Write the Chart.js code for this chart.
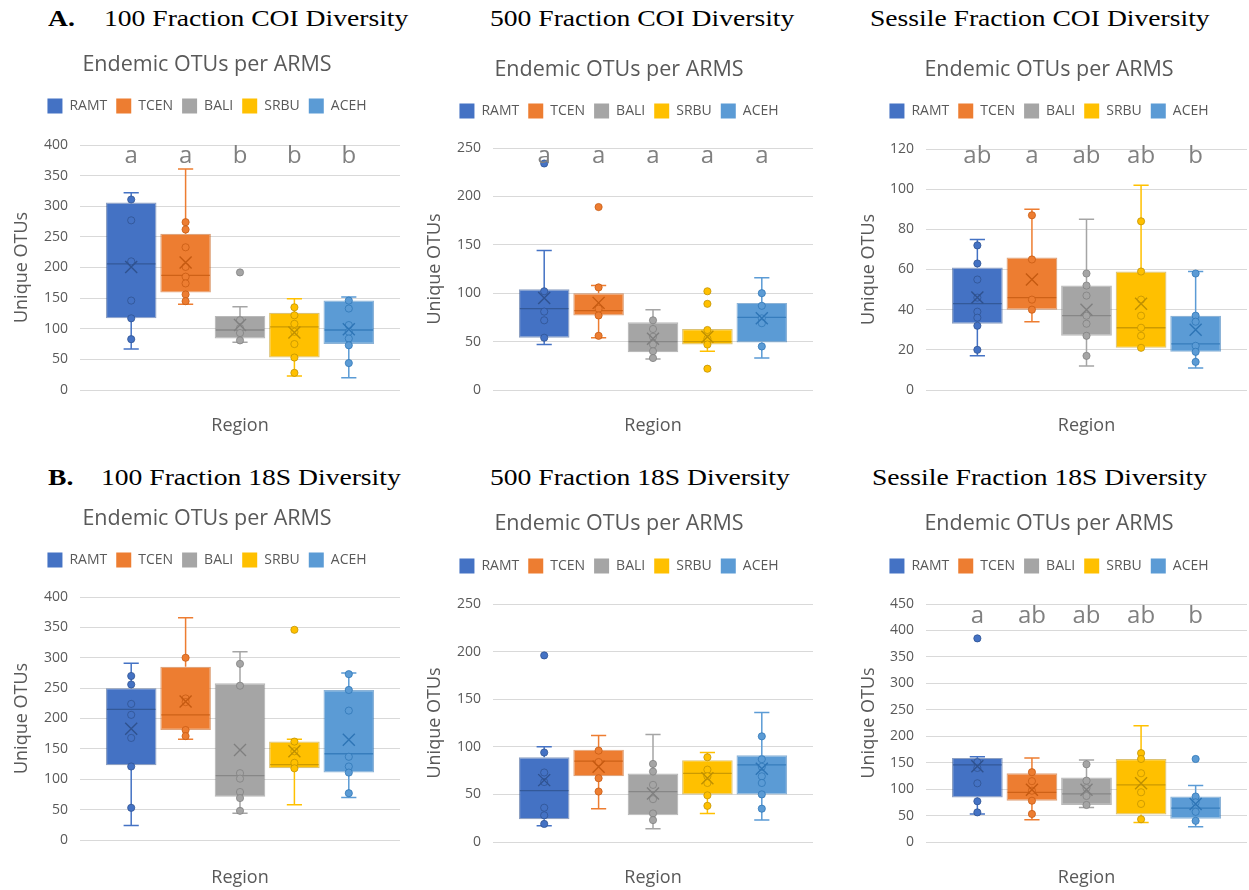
<!DOCTYPE html>
<html>
<head>
<meta charset="utf-8">
<script src="https://cdn.jsdelivr.net/npm/chart.js@4.4.1/dist/chart.umd.min.js"></script>
<style>
  html, body { margin: 0; padding: 0; background: #fff; }
  body { position: relative; width: 1249px; height: 890px; overflow: hidden; }
  canvas { position: absolute; }
  .head {
    position: absolute; white-space: nowrap; color: #000;
    font-family: "Liberation Serif", "Times New Roman", serif;
    font-size: 24px; line-height: 24px;
    transform: scaleX(1.15); transform-origin: 0 0;
  }
</style>
</head>
<body>
<div class="head" style="left:48px;top:6px"><b>A.</b></div>
<div class="head" style="left:104px;top:6px">100 Fraction COI Diversity</div>
<div class="head" style="left:490px;top:6px">500 Fraction COI Diversity</div>
<div class="head" style="left:870px;top:6px">Sessile Fraction COI Diversity</div>
<div class="head" style="left:48px;top:465px"><b>B.</b></div>
<div class="head" style="left:101px;top:465px">100 Fraction 18S Diversity</div>
<div class="head" style="left:490px;top:465px">500 Fraction 18S Diversity</div>
<div class="head" style="left:872px;top:465px">Sessile Fraction 18S Diversity</div>

<canvas id="c1"></canvas>
<canvas id="c2"></canvas>
<canvas id="c3"></canvas>
<canvas id="c4"></canvas>
<canvas id="c5"></canvas>
<canvas id="c6"></canvas>

<script>
// Regions (one box per region)
const regions = ['RAMT', 'TCEN', 'BALI', 'SRBU', 'ACEH'];

// Box statistics per region: [whisker low, Q1, median, Q3, whisker high, mean]
const coi100Stats = [
  [67, 117, 206, 306, 322, 201],
  [140, 159, 187, 255, 361, 208],
  [78, 84, 98, 121, 136, 106],
  [23, 53, 103, 126, 149, 94],
  [20, 75, 98, 146, 152, 99]
];
const coi100Points = [
  [311, 277, 210, 146, 117, 83],
  [274, 262, 233, 201, 185, 174, 156, 145],
  [192, 114, 101, 93, 81],
  [135, 122, 108, 95, 75, 53, 28],
  [146, 133, 106, 95, 84, 73, 44]
];
const coi100Letters = ['a', 'a', 'b', 'b', 'b'];

const coi500Stats = [
  [47, 54, 84, 104, 144, 95],
  [54, 77, 82, 100, 108, 90],
  [32, 39, 50, 70, 83, 53],
  [40, 47, 50, 63, 63, 55],
  [33, 49, 75, 90, 116, 74]
];
const coi500Points = [
  [234, 102, 81, 72, 54],
  [189, 106, 84, 77, 56],
  [72, 63, 55, 47, 40, 33],
  [102, 89, 62, 53, 47, 22],
  [100, 87, 74, 69, 45]
];
const coi500Letters = ['a', 'a', 'a', 'a', 'a'];

const coiSessileStats = [
  [17, 33, 43, 61, 75, 46],
  [34, 40, 46, 66, 90, 55],
  [12, 27, 37, 52, 85, 40],
  [21, 21, 31, 59, 102, 43],
  [11, 19, 23, 37, 59, 30]
];
const coiSessilePoints = [
  [72, 63, 55, 46, 39, 36, 32, 20],
  [87, 65, 45, 40],
  [58, 52, 47, 37, 33, 27, 17],
  [84, 59, 45, 37, 31, 27, 21],
  [58, 37, 34, 22, 19, 14]
];
const coiSessileLetters = ['ab', 'a', 'ab', 'ab', 'b'];

const s18_100Stats = [
  [24, 123, 215, 250, 291, 183],
  [166, 181, 206, 285, 366, 228],
  [44, 71, 106, 258, 310, 148],
  [58, 118, 124, 162, 166, 146],
  [70, 111, 142, 247, 275, 165]
];
const s18_100Points = [
  [270, 256, 224, 206, 168, 121, 53],
  [300, 233, 227, 181, 171],
  [290, 254, 110, 101, 79, 69, 48],
  [346, 162, 146, 127, 118],
  [273, 247, 213, 137, 121, 111, 77]
];

const s18_500Stats = [
  [17, 24, 54, 89, 100, 65],
  [35, 69, 85, 97, 112, 79],
  [14, 28, 53, 72, 113, 51],
  [30, 50, 72, 86, 94, 67],
  [23, 50, 81, 91, 136, 77]
];
const s18_500Points = [
  [196, 94, 73, 63, 36, 28, 19],
  [96, 84, 67, 53],
  [82, 74, 60, 45, 30, 23],
  [89, 76, 69, 62, 49, 38],
  [111, 87, 79, 69, 62, 50, 35]
];

const s18SessileStats = [
  [53, 84, 146, 159, 161, 143],
  [42, 78, 94, 130, 159, 99],
  [65, 70, 91, 122, 155, 99],
  [37, 52, 108, 157, 220, 111],
  [29, 44, 64, 86, 107, 72]
];
const s18SessilePoints = [
  [385, 151, 140, 111, 77, 56],
  [132, 115, 97, 78, 53],
  [147, 116, 102, 87, 70],
  [168, 157, 130, 94, 72, 43],
  [157, 86, 75, 57, 40]
];
const s18SessileLetters = ['a', 'ab', 'ab', 'ab', 'b'];

// Axis ranges: [max, step]
const coi100Axis = [400, 50];
const coi500Axis = [250, 50];
const coiSessileAxis = [120, 20];
const s18_100Axis = [400, 50];
const s18_500Axis = [250, 50];
const s18SessileAxis = [450, 50];

// Series colours (fill) and their darker shades (lines, markers)
const fills = ['#4472C4', '#ED7D31', '#A5A5A5', '#FFC000', '#5B9BD5'];
const shades = ['#2F528F', '#C55A11', '#7F7F7F', '#BF9000', '#2E75B6'];

const TEXT = '#595959';
Chart.defaults.font.family = '"Open Sans", "Noto Sans", sans-serif';
Chart.defaults.color = TEXT;

// Page frame of each panel (pixels)
const frames = {
  c1: { left: 14,  top: 40,  width: 386, height: 405, plotLeft: 80,  plotTop: 145, subY: 65,  legendY: 106, regionY: 426, yTitleX: 21.5, letterDy: 18 },
  c2: { left: 425, top: 45,  width: 388, height: 400, plotLeft: 493, plotTop: 148, subY: 70,  legendY: 111, regionY: 426, yTitleX: 435,  letterDy: 15 },
  c3: { left: 851, top: 45,  width: 396, height: 400, plotLeft: 926, plotTop: 149, subY: 70,  legendY: 111, regionY: 426, yTitleX: 868.5, letterDy: 14 },
  c4: { left: 14,  top: 494, width: 386, height: 396, plotLeft: 80,  plotTop: 597, subY: 519, legendY: 560, regionY: 878, yTitleX: 21.5, letterDy: 18 },
  c5: { left: 425, top: 499, width: 388, height: 391, plotLeft: 493, plotTop: 604, subY: 524, legendY: 566, regionY: 878, yTitleX: 435,  letterDy: 15 },
  c6: { left: 851, top: 499, width: 396, height: 391, plotLeft: 926, plotTop: 604, subY: 524, legendY: 566, regionY: 878, yTitleX: 868.5, letterDy: 19 }
};
const plotBottoms = { c1: 390, c2: 390, c3: 390, c4: 840, c5: 842, c6: 842 };

const panels = [
  { id: 'c1', stats: coi100Stats,     points: coi100Points,     letters: coi100Letters,     axis: coi100Axis },
  { id: 'c2', stats: coi500Stats,     points: coi500Points,     letters: coi500Letters,     axis: coi500Axis },
  { id: 'c3', stats: coiSessileStats, points: coiSessilePoints, letters: coiSessileLetters, axis: coiSessileAxis },
  { id: 'c4', stats: s18_100Stats,    points: s18_100Points,    letters: null,              axis: s18_100Axis },
  { id: 'c5', stats: s18_500Stats,    points: s18_500Points,    letters: null,              axis: s18_500Axis },
  { id: 'c6', stats: s18SessileStats, points: s18SessilePoints, letters: s18SessileLetters, axis: s18SessileAxis }
];

function withAlpha(hex, a) {
  const n = parseInt(hex.slice(1), 16);
  return `rgba(${n >> 16},${(n >> 8) & 255},${n & 255},${a})`;
}

// Whiskers, medians, data points, mean markers and group letters
const boxOverlay = {
  id: 'boxOverlay',
  afterDatasetsDraw(chart, args, opts) {
    const { ctx, chartArea } = chart;
    const y = chart.scales.y;
    const p = opts.panel;
    p.stats.forEach((s, i) => {
      const bar = chart.getDatasetMeta(i).data[0];
      const cx = bar.x, w = bar.width;
      const [lo, q1, med, q3, hi, mean] = s;
      ctx.save();
      ctx.lineCap = 'butt';
      // whiskers with caps
      ctx.strokeStyle = fills[i];
      ctx.lineWidth = 1.5;
      const cap = w * 0.3;
      [[q3, hi], [q1, lo]].forEach(([from, to]) => {
        if (from === to) return;
        const y0 = y.getPixelForValue(from), y1 = y.getPixelForValue(to);
        ctx.beginPath();
        ctx.moveTo(cx, y0); ctx.lineTo(cx, y1);
        ctx.moveTo(cx - cap / 2, y1); ctx.lineTo(cx + cap / 2, y1);
        ctx.stroke();
      });
      // median
      const ym = y.getPixelForValue(med);
      ctx.strokeStyle = withAlpha(shades[i], 0.8);
      ctx.lineWidth = 1.3;
      ctx.beginPath();
      ctx.moveTo(cx - w / 2 + 1, ym); ctx.lineTo(cx + w / 2 - 1, ym);
      ctx.stroke();
      // data points
      p.points[i].forEach(v => {
        const py = y.getPixelForValue(v);
        ctx.beginPath();
        ctx.arc(cx, py, 3.6, 0, Math.PI * 2);
        ctx.fillStyle = fills[i];
        ctx.fill();
        ctx.strokeStyle = withAlpha(shades[i], 0.75);
        ctx.lineWidth = 1;
        ctx.stroke();
      });
      // mean marker
      const my = y.getPixelForValue(mean), r = 6;
      ctx.strokeStyle = shades[i];
      ctx.lineWidth = 1.4;
      ctx.beginPath();
      ctx.moveTo(cx - r, my - r); ctx.lineTo(cx + r, my + r);
      ctx.moveTo(cx + r, my - r); ctx.lineTo(cx - r, my + r);
      ctx.stroke();
      // group letter
      if (p.letters) {
        ctx.fillStyle = '#808080';
        ctx.font = '24px "Open Sans", sans-serif';
        ctx.textAlign = 'center';
        ctx.textBaseline = 'alphabetic';
        ctx.fillText(p.letters[i], cx, chartArea.top + opts.letterDy);
      }
      ctx.restore();
    });
  }
};

// Extra room between the legend and the plot
function legendGap(gap) {
  return {
    id: 'legendGap',
    beforeInit(chart) {
      const fit = chart.legend.fit;
      chart.legend.fit = function () {
        fit.bind(chart.legend)();
        this.height += gap;
      };
    }
  };
}

panels.forEach(p => {
  const f = frames[p.id];
  const canvas = document.getElementById(p.id);
  canvas.width = f.width;
  canvas.height = f.height;
  canvas.style.left = f.left + 'px';
  canvas.style.top = f.top + 'px';
  canvas.style.width = f.width + 'px';
  canvas.style.height = f.height + 'px';

  const bottom = f.top + f.height;
  const plotBottom = plotBottoms[p.id];
  const subFont = 21.5, subLine = subFont * 1.2;
  const legPad = 9, itemH = 15;
  const titleTop = f.subY - f.top - subLine / 2;
  const legendTop = f.legendY - legPad - itemH / 2;
  const titleBottom = legendTop - (f.top + titleTop + subLine);
  const gap = f.plotTop - (legendTop + itemH + legPad + 10);
  const xLine = 18 * 1.2;
  const xPadBottom = bottom - f.regionY - xLine / 2;
  const xPadTop = (bottom - plotBottom) - xLine - xPadBottom;
  const yTitlePad = f.yTitleX - f.left - 18 * 1.2 / 2;
  const yWidth = f.plotLeft - f.left;

  new Chart(canvas, {
    type: 'bar',
    data: {
      labels: ['Region'],
      datasets: regions.map((name, i) => ({
        label: name,
        data: [[p.stats[i][1], p.stats[i][3]]],
        backgroundColor: fills[i],
        borderColor: withAlpha(shades[i], 0.55),
        borderWidth: 1.2,
        borderSkipped: false,
        barPercentage: 0.93,
        categoryPercentage: 0.85
      }))
    },
    options: {
      responsive: false,
      devicePixelRatio: 1,
      animation: false,
      layout: { padding: 0 },
      plugins: {
        title: {
          display: true,
          text: 'Endemic OTUs per ARMS',
          color: TEXT,
          font: { size: subFont, weight: 'normal' },
          padding: { top: titleTop, bottom: titleBottom }
        },
        legend: {
          display: true,
          position: 'top',
          labels: {
            boxWidth: 15, boxHeight: 15, padding: legPad, color: TEXT,
            font: { size: 14 },
            generateLabels(chart) {
              return Chart.defaults.plugins.legend.labels.generateLabels(chart)
                .map(l => Object.assign(l, { lineWidth: 0, strokeStyle: 'rgba(0,0,0,0)' }));
            }
          }
        },
        tooltip: { enabled: false },
        boxOverlay: { panel: p, letterDy: f.letterDy }
      },
      scales: {
        x: {
          type: 'category',
          grid: { display: false, drawTicks: false },
          border: { display: false },
          ticks: { display: false },
          title: {
            display: true, text: 'Region', color: TEXT,
            font: { size: 18 },
            padding: { top: xPadTop, bottom: xPadBottom }
          }
        },
        y: {
          min: 0,
          max: p.axis[0],
          ticks: { stepSize: p.axis[1], padding: 12, color: TEXT, font: { size: 14 } },
          grid: { color: '#D9D9D9', drawTicks: false, lineWidth: 1 },
          border: { display: false },
          title: {
            display: true, text: 'Unique OTUs', color: TEXT,
            font: { size: 18 },
            padding: { top: yTitlePad, bottom: 0 }
          },
          afterFit(scale) { scale.width = yWidth; }
        }
      }
    },
    plugins: [boxOverlay, legendGap(gap)]
  });
});
</script>
</body>
</html>
